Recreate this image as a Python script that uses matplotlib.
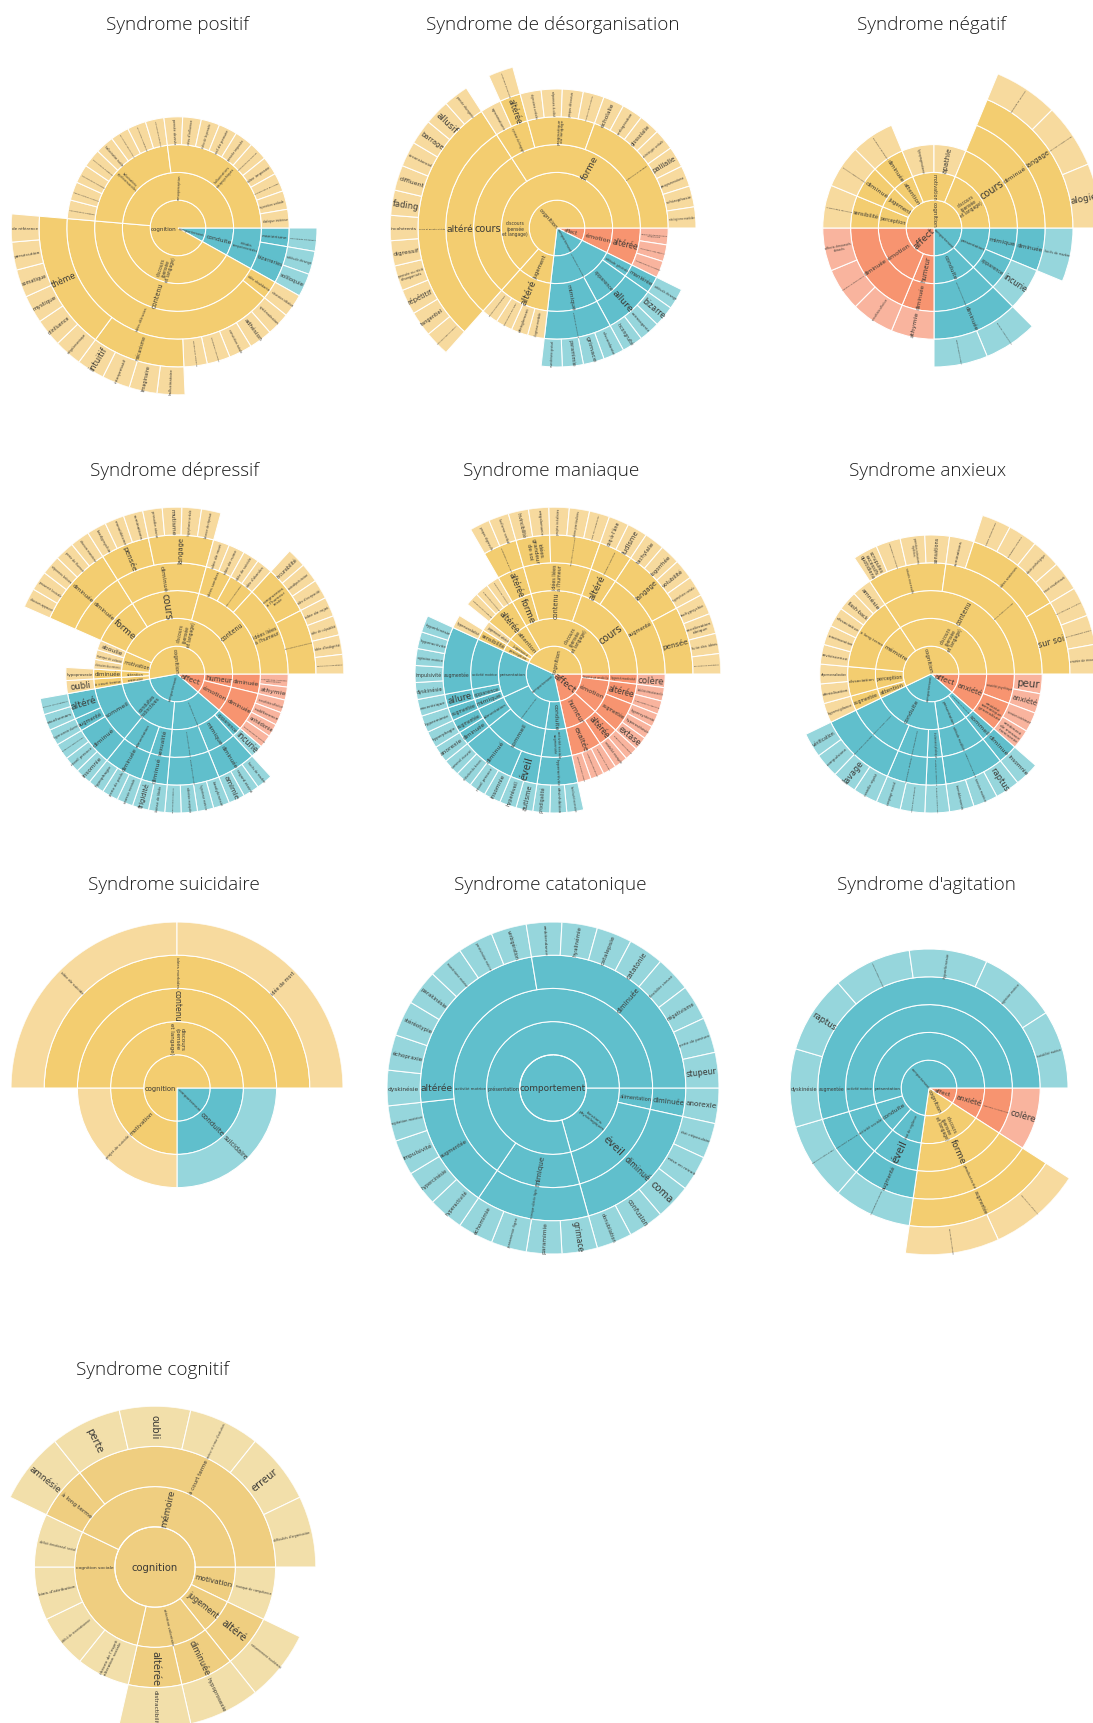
import numpy as np
import matplotlib
matplotlib.use("Agg")
import matplotlib.pyplot as plt
from matplotlib.font_manager import FontProperties
from matplotlib.textpath import TextPath

W, H = 1093, 1724

# ---------------------------------------------------------------- data
# every leaf counts for one unit; nesting gives the rings, clockwise from 3 o'clock
POSITIF = [
    ("comportement", [("conduite", [("attitudes\ncomportementales", [
        ("maniérisme", ["mouvements stéréotypés"]),
        ("bizarreries", ["attitude étrange", "soliloquie"])])])]),
    ("cognition", [
        ("discours\n(pensée\net langage)", [("contenu", [
            ("idée obsédante", ["obsession idéative"]),
            ("idées délirantes", [
                "systématisation", "adhésion", "conviction totale", "élaboration secondaire", "dynamique délirante",
                ("mécanisme", ["hallucinatoire", "imaginaire", "interprétatif", "intuitif"]),
                ("thème", ["mégalomaniaque", "d'influence", "mystique", "somatique", "persécution", "de référence"])])])]),
        ("sensoperception", [
            ("hallucinations\npsychosensorielles", ["hallucination auditive", "hallucination visuelle",
                "hallucination olfactive", "hallucination gustative", "hallucination tactile",
                "hallucination cénesthésique", "hallucination cinesthésique", "hallucination génitale"]),
            ("hallucinations\nintrapsychiques", ["pensée devinée", "vécu d'influence", "écho de la pensée",
                "vol de pensée", "pensée imposée", "automatisme mental", "idée imposée",
                "commentaire des actes", "injonction verbale", "dialogue intérieur"])])]),
]
DESORG = [
    ("affect", [("émotion", [("altérée", ["réactivité émotionnelle\ninappropriée",
        "discordance idéo-affective", "ambivalence affective"])])]),
    ("comportement", [("présentation générale", [
        ("attitude générale", [("maniérée", ["attitude étrange"])]),
        ("apparence", [("allure", ["bizarre", "extravagante", "incongruité"])]),
        ("mimique", [("altération de la mimique", ["discordante", "grimace", "paramimie", "maniérisme gestuel"])])])]),
    ("cognition", [
        ("jugement", [("altéré", ["illogisme morbide", "dérèglement", "rationalisme morbide", "raisonnement paralogique"])]),
        ("discours\n(pensée\net langage)", [
            ("cours", [("altéré", [("cours et pensée altérés", [
                "relâchement des associations", "tangentiel", "répétitif", "pensée ou récit\ndésorganisés",
                "digressif", "incohérents", "fading", "diffluent", "circonstanciel", "barrage", "allusif",
                "pensée divergente"])])]),
            ("forme", [
                ("syntaxe du langage", ["agrammatisme", ("altérée", ["paraphasie sémantique"])]),
                ("pragmatique\ndu langage", ["digressions verbales", "réponses à côté", "propos décousus", "communication altérée"]),
                ("altérations du langage", ["écholalie", "verbigération", "glossolalie", "stéréotypie verbale",
                    "palilalie", "paragrammatisme", "schizophasie", "néologisme morbide"])])])]),
]
NEGATIF = [
    ("comportement", [
        ("présentation", [
            ("mimique", [("diminuée", ["faciès de marbre"])]),
            ("apparence", ["incurie"])]),
        ("conduite", [("activité motrice spontanée", [("diminuée", ["perte de l'initiative motrice", "ralentissement moteur"])])])]),
    ("affect", [
        ("humeur", [("diminuée", ["athymie"])]),
        ("émotion", [("diminuée", ["anesthésie affective", "indifférence émotionnelle", "affects émoussés\nabrasés"])])]),
    ("cognition", [
        ("perception", [("sensibilité", ["hypoesthésie sensorielle"])]),
        ("jugement", [("diminué", ["perte du jugement social"])]),
        ("attention", [("diminuée", ["hypoprosexie généralisée"])]),
        ("motivation", ["hypopragmatisme", "apathie"]),
        ("discours\n(pensée\net langage)", [("cours", [("diminué", [("langage", [
            "pauvreté du discours", "latence des réponses verbales", "alogie"])])])])]),
]
DEPRESSIF = [
    ("affect", [
        ("humeur", [("diminuée", ["hypothymie, tristesse\npathologique", "athymie"])]),
        ("émotion", [("diminuée", ["anesthésie affective", "indifférence", "anhédonie", "émoussement affectif"])])]),
    ("comportement", [
        ("présentation générale", [
            ("apparence", ["incurie"]),
            ("mimique", [("diminuée", ["faciès de marbre", "regard éteint", "amimie"])]),
            ("psychomotricité ralentie", [("activité motrice diminuée", [
                "bradykinésie", "hypotonie motrice", "akinésie marquée", "ralentissement gestuel"])])]),
        ("conduites\ninstinctives", [
            ("sexualité", [("diminué", ["baisse de libido", "frigidité"])]),
            ("alimentation", [("diminuée", ["anorexie mentale", "perte de poids", "hypophagie"])]),
            ("sommeil", [
                ("diminué", ["insomnie", "réveil précoce", "endormissement tardif"]),
                ("augmenté", ["hypersomnie diurne"]),
                ("altéré", ["cauchemars", "sommeil non réparateur"])])])]),
    ("cognition", [
        ("mémoire", [("à court terme", ["oubli"])]),
        ("attention", [("diminuée", ["hypoprosexie"])]),
        ("motivation", ["abrasion du ressenti", "manque de volonté", "aboulie"]),
        ("discours\n(pensée\net langage)", [
            ("forme", [("diminuée", [("diminuée", ["discours appauvri", "pauvreté lexicale", "réponses brèves",
                "perte de fluence", "discours monotone"])])]),
            ("cours", [("diminué", [
                ("pensée", ["bradypsychie", "monoïdéisme", "ruminations"]),
                ("langage", ["prosodie atone", "mutisme", "hypophonie verbale", "latence de réponse"])])]),
            ("contenu", [
                ("idées sombres", ["idée de mort", "idée de ruine"]),
                ("idées noires persistantes", ["idée de suicide", "idée d'abandon"]),
                ("idées liées\nà l'humeur", [
                    ("congruentes\nà l'humeur\ntriste", ["incurabilité", "autodépréciation", "idée d'incapacité"]),
                    ("délire congruent à l'humeur dépressive", ["idée de rejet", "idée de culpabilité",
                        "idée d'indignité", "sentiment d'incompétence"])])])])]),
]
MANIAQUE = [
    ("affect", [
        ("humeur mobile", [("hyperémotivité", ["colère"])]),
        ("émotion", [
            ("altérée", ["labilité émotionnelle", "hyperesthésie affective"]),
            ("augmentée", ["hypersyntonie", "hyperesthésie", "extase"])]),
        ("humeur", [
            ("altérée", ["euphorie pathologique", "irritabilité marquée"]),
            ("exaltée", ["exaltation de l'humeur", "optimisme démesuré", "sentiment de toute-puissance"])])]),
    ("comportement", [
        ("conduite", [("activité sociale\naugmentée", [("hyperactivité", ["familiarité excessive", "désinhibition", "prodigalité"])])]),
        ("conduites instinctives", [
            ("sommeil", [("éveil", ["autisme", "hyperéveil"]),
                         ("diminué", ["insomnie", "réveil précoce", "réduction du besoin", "sommeil écourté"])]),
            ("alimentation", [("diminuée", ["anorexie"]), ("augmentée", ["hyperphagie"])])]),
        ("présentation", [
            ("mimique", [("augmentée", ["hypermimie"])]),
            ("apparence", [("allure", ["excentrique"])]),
            ("activité motrice", [("augmentée", ["dyskinésie", "impulsivité", "agitation motrice", "hyperactivité", "hyperkinésie"])])])]),
    ("cognition", [
        ("perception", [("sensibilité", ["hypersensibilité"])]),
        ("jugement", ["jugement altéré"]),
        ("attention", [("altérée", ["distractibilité marquée", "hypermnésie sélective", "dispersion de l'attention"])]),
        ("discours\n(pensée\net langage)", [
            ("forme", [("altérée", [("augmentation du discours", ["propos digressifs", "ludisme verbal"])])]),
            ("contenu", [("idées liées\nà l'humeur", [
                ("idées\ngrandeur\nde soi", ["invincibilité", "mégalomanie"]),
                ("idées de grandeur et de toute-puissance", ["projets irréalistes", "dons particuliers", "hauts faits imaginaires"])])]),
            ("cours", [
                ("altéré", [("incohérence associative", ["coq-à-l'âne", "ludisme"])]),
                ("augmenté", [
                    ("langage", ["tachylalie", "logorrhée", "volubilité", "hyperphasie verbale"]),
                    ("pensée", ["tachypsychie", "accélération\nidéique", "fuite des idées", "associations accélérées"])])])])]),
]
ANXIEUX = [
    ("affect", [("anxiété", [
        ("anxiété psychique", ["peur", "anxiété"]),
        ("anxiété\nsomatique\ngénéralisée", ["tension intérieure", "sentiment\nde menace\nimminente"])])]),
    ("comportement", [
        ("conduites instinctives", [("sommeil", [("diminué", ["insomnie"])])]),
        ("présentation", [("attitude modifiée", [("agitation motrice aiguë", ["raptus", "tension motrice", "tremblements"])])]),
        ("conduite", [
            ("évitement phobique", [("stratégies de réassurance", ["évitement situationnel"])]),
            ("rituels obsessionnels", [("compulsions répétées", ["rituels de rangement", "comptage mental"])]),
            ("compulsions anxieuses chroniques", [("rituels compulsifs répétés", ["contrôle répété", "lavage", "compulsions", "vérification"])])])]),
    ("cognition", [
        ("attention", [("augmentée", ["hypervigilance"])]),
        ("perception", [("dissociation", ["déréalisation", "dépersonnalisation"])]),
        ("mémoire", [("à long terme", ["reviviscence", "remémoration", "dissociative", "flash-back", "amnésie"])]),
        ("discours\n(pensée\net langage)", [("contenu", [
            ("soucis excessifs", ["scrupules\nexcessifs\nquotidiens", "obsession de souillure", "pensées intrusives\nrépétées", "sensations"]),
            ("soucis et idées anxieuses", [
                "ruminations",
                ("idées anxieuses", ["pensée catastrophique", "anticipation négative", "doute pathologique", "souci envahissant"]),
                ("sur soi", ["peur de perdre le contrôle", "peur du jugement d'autrui", "crainte de mourir"])])])])]),
]
SUICIDAIRE = [
    ("comportement", [("conduite", ["suicidaire"])]),
    ("cognition", [
        ("motivation", ["projet de suicide"]),
        ("discours\n(pensée\net langage)", [("contenu", [("idées morbides", ["idée de suicide", "idée de mort"])])])]),
]
CATATONIQUE = [
    ("comportement", [
        ("fonctions\nphysiologiques", [
            ("alimentation", [("diminuée", ["anorexie"])]),
            ("éveil", [("diminué", ["état crépusculaire", "mise en retrait", "coma", "confusion", "obnubilation"])])]),
        ("présentation", [
            ("mimique", [("mimique altérée figée", ["grimace", "paramimie", "paramimie figée", "échomimie"])]),
            ("activité motrice", [
                ("augmentée", ["hyperactivité", "hypercinésie", "impulsivité", "agitation motrice"]),
                ("altérée", ["dyskinésie", "échopraxie", "stéréotypie", "parakinésie", "maniérisme moteur", "persévération motrice", "verbigération"]),
                ("diminuée", ["ambitendance", "hyalinémie", "catalepsie", "catatonie", "flexibilité cireuse",
                    "négativisme", "perte de posture", "stupeur"])])])]),
]
AGITATION = [
    ("affect", [("anxiété", [("anxiété aiguë avec tension interne", ["colère"])])]),
    ("cognition", [("discours\n(pensée\net langage)", [("forme", [("productivité", [("augmentée", [
        "logorrhée intense et désordonnée", "tachyphémie incoercible"])])])])]),
    ("comportement", [
        ("état de vigilance", [("éveil", [("augmenté", ["hypervigilance diffuse"])])]),
        ("conduite", [("activité sociale", [("agressivité impulsive", ["agressivité hétéro-dirigée"])])]),
        ("présentation", [("activité motrice", [("augmentée", [
            "dyskinésie", "raptus", "déambulation motrice", "hyperkinésie", "agitation motrice", "instabilité motrice"])])])]),
]
COGNITIF = [
    ("cognition", [
        ("motivation", ["manque de compétence"]),
        ("jugement", [("altéré", ["raisonnement incohérent"])]),
        ("attention volontaire", [("diminuée", ["hypoprosexie"]), ("altérée", ["distractibilité"])]),
        ("cognition sociale", ["théorie de l'esprit\naltération sociale", "déficit de reconnaissance", "biais d'attribution", "déficit émotionnel social"]),
        ("mémoire", [
            ("à long terme", ["amnésie"]),
            ("à court terme", ["perte", "oubli", "lenteur et erreur d'exécution", "erreur", "difficultés d'organisation"])])]),
]

TITLES = ["Syndrome positif", "Syndrome de désorganisation", "Syndrome négatif",
          "Syndrome dépressif", "Syndrome maniaque", "Syndrome anxieux",
          "Syndrome suicidaire", "Syndrome catatonique", "Syndrome d'agitation",
          "Syndrome cognitif"]
TREES = [POSITIF, DESORG, NEGATIF, DEPRESSIF, MANIAQUE, ANXIEUX, SUICIDAIRE, CATATONIQUE, AGITATION, COGNITIF]

# ---------------------------------------------------------------- layout and style
#          centre x, centre y, ring width, rings, title x, title y
FRAMES = [(178, 229, 27.8, 6, 177, 25), (557, 229, 27.8, 6, 553, 25), (934, 229, 27.8, 6, 932, 25),
          (177, 675, 27.8, 6, 174, 471), (554, 675, 27.8, 6, 551, 471), (931, 675, 27.8, 6, 928, 471),
          (177, 1089, 33.2, 5, 174, 885), (553, 1089, 33.2, 5, 550, 885), (929, 1089, 27.8, 6, 926, 885),
          (155, 1568, 40.2, 4, 153, 1370)]
# labels the reference keeps on the horizontal although their sector is centred elsewhere
LABEL_DEG = [
    {(0, "cognition"): 180, (2, "hallucinations\npsychosensorielles"): 180},
    {(1, "discours\n(pensée\net langage)"): 180, (2, "cours"): 180, (3, "altéré"): 180, (4, "cours et pensée altérés"): 180},
    {},
    {},
    {(1, "présentation"): 180, (2, "activité motrice"): 180, (3, "augmentée"): 180},
    {},
    {(0, "cognition"): 180},
    {(1, "présentation"): 180, (2, "activité motrice"): 180, (3, "altérée"): 180},
    {(1, "présentation"): 180, (2, "activité motrice"): 180, (3, "augmentée"): 180},
    {(1, "cognition sociale"): 180},
]
INNER = {"cognition": "#F3CD70", "comportement": "#60BFCC", "affect": "#F79470"}
OUTER = {"cognition": "#F7DA9E", "comportement": "#96D6DC", "affect": "#F9B49E"}
COG_INNER, COG_OUTER = "#EFCE80", "#F2DFAA"
TEXT = "#3b3a36"
EDGE_LW = 0.75
LABEL_FONT = FontProperties(family="DejaVu Sans")
CAP_PX = 10.0


def n_leaves(node):
    return 1 if isinstance(node, str) else sum(n_leaves(c) for c in node[1])


def text_width(s):
    return max(TextPath((0, 0), line or " ", size=1, prop=LABEL_FONT).get_extents().width
               for line in s.split("\n"))


def put_label(ax, label, a0, a1, depth, dr, deg_map):
    span = a1 - a0
    lines = label.count("\n") + 1
    if span >= 359.9:
        size = min(CAP_PX, 2 * dr * 0.98 / text_width(label))
        ax.text(0, 0, label, ha="center", va="center", color=TEXT, fontsize=size * 0.72, family="DejaVu Sans")
        return
    mid = (a0 + a1) / 2
    fixed = deg_map.get((depth, label))
    if fixed is not None and a0 <= fixed <= a1:
        mid = fixed
    r_mid = depth + 0.5
    arc = np.radians(span) * r_mid * dr
    size = min(CAP_PX, 0.92 * dr / text_width(label), arc * 0.85 / (1.15 * lines))
    rot = -mid
    if np.cos(np.radians(mid)) < 0:
        rot += 180
    ax.text(np.radians(mid), r_mid, label, rotation=rot, rotation_mode="anchor", ha="center", va="center",
            multialignment="center", linespacing=1.0, color=TEXT, fontsize=size * 0.72, family="DejaVu Sans")


def draw(ax, nodes, a0, unit, depth, dr, palette, deg_map, root=None):
    for node in nodes:
        label, kids = (node, None) if isinstance(node, str) else node
        key = root or label
        a1 = a0 + n_leaves(node) * unit
        inner, outer = palette(key)
        colour = outer if kids is None else inner
        if a1 - a0 >= 359.9:
            th = np.linspace(0, 2 * np.pi, 400)
            ax.fill_between(th, depth, depth + 1, color=colour, lw=0)
            ax.plot(th, np.full_like(th, depth + 1), color="white", lw=EDGE_LW)
        else:
            ax.bar(np.radians((a0 + a1) / 2), 1, width=np.radians(a1 - a0), bottom=depth,
                   color=colour, edgecolor="white", linewidth=EDGE_LW)
        put_label(ax, label, a0, a1, depth, dr, deg_map)
        if kids:
            draw(ax, kids, a0, unit, depth + 1, dr, palette, deg_map, key)
        a0 = a1


fig = plt.figure(figsize=(W / 100, H / 100), dpi=100, facecolor="white")
for tree, title, frame, deg_map in zip(TREES, TITLES, FRAMES, LABEL_DEG):
    cx, cy, dr, rings, tx, ty = frame
    R = dr * rings
    ax = fig.add_axes([(cx - R) / W, 1 - (cy + R) / H, 2 * R / W, 2 * R / H], projection="polar")
    ax.set_theta_zero_location("E")
    ax.set_theta_direction(-1)
    ax.set_ylim(0, rings)
    ax.set_axis_off()
    total = sum(n_leaves(n) for n in tree)
    if tree is COGNITIF:
        palette = lambda k: (COG_INNER, COG_OUTER)
    else:
        palette = lambda k: (INNER[k], OUTER[k])
    draw(ax, tree, 0.0, 360.0 / total, 0, dr, palette, deg_map)
    fig.text(tx / W, 1 - ty / H, title, ha="center", va="center", family="Open Sans", weight=300,
             fontsize=13.6, color="#1c1c1c")

fig.savefig("out.png", dpi=100, facecolor="white")
